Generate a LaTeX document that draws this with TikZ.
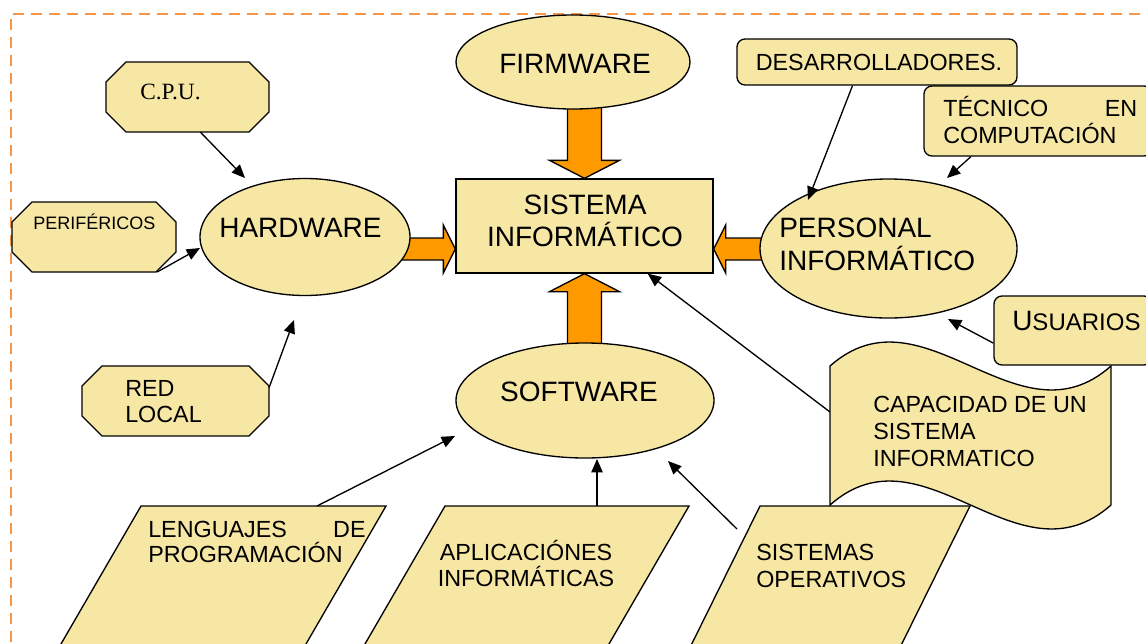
\documentclass[tikz,border=0pt]{standalone}
\usepackage{fontspec}
\setmainfont{Liberation Sans}
\newfontfamily\cpufont{Liberation Serif}
\usetikzlibrary{shapes.geometric,arrows.meta,backgrounds}
\definecolor{boxfill}{RGB}{247,231,165}
\definecolor{fatorange}{RGB}{255,153,0}
\definecolor{frameorange}{RGB}{247,150,70}
\tikzset{
  shp/.style={draw=black, line width=1pt, fill=boxfill},
  ell/.style={shp, ellipse, inner sep=0pt},
  octnode/.style={rectangle, inner sep=0pt, outer sep=0pt},
  rbox/.style={shp, rectangle, rounded corners=6pt, inner sep=0pt},
  bigtxt/.style={font=\fontsize{21}{24.5}\selectfont, inner sep=0pt},
  smalltxt/.style={font=\fontsize{17.5}{20.25}\selectfont, inner sep=0pt},
  arr/.style={line width=1pt, -{Triangle[length=10pt,width=8.5pt]}},
  fat/.style={draw=black, line width=1pt, fill=fatorange, line join=miter},
  frame/.style={draw=frameorange, line width=2.2pt, dash pattern=on 8pt off 5.5pt}
}
\newcommand\octoutline[1]{%
  \draw[shp] ([xshift=15pt]#1.north west) -- ([xshift=-15pt]#1.north east)
    -- ([yshift=-15pt]#1.north east) -- ([yshift=15pt]#1.south east)
    -- ([xshift=-15pt]#1.south east) -- ([xshift=15pt]#1.south west)
    -- ([yshift=15pt]#1.south west) -- ([yshift=-15pt]#1.north west) -- cycle;}
\begin{document}
\begin{tikzpicture}[x=0.75pt,y=-0.75pt]
\useasboundingbox (0,0) rectangle (1146,643);
\clip (0,0) rectangle (1146,643);
% frame
\draw[frame] (11,660) -- (11,14) -- (1160,14);

% parallelograms
\draw[shp] (141,506) coordinate (lenTL) -- (386,506) coordinate (lenTR) -- ++(-112.5,194) -- ++(-245,0) -- cycle;
\draw[shp] (445,506) coordinate (aplTL) -- (689,506) coordinate (aplTR) -- ++(-112.5,194) -- ++(-244,0) -- cycle;
\draw[shp] (760,506) coordinate (sopTL) -- (970,506) coordinate (sopTR) -- ++(-96,194) -- ++(-210,0) -- cycle;
% wave shape
\draw[shp] (830,366) .. controls (923.7,283) and (1017.3,449) .. (1111,366) -- (1111,505) .. controls (1017.3,588) and (923.7,422) .. (830,505) -- cycle;
\coordinate (capA) at (830,412);
\coordinate (lenA) at (317,506);
\coordinate (aplA) at (597,506);
\coordinate (sopA) at (737,529);

% main nodes
\node[ell, minimum width=175.5pt, minimum height=70.5pt] (fw) at (573,62) {};
\node[shp, rectangle, inner sep=0pt, minimum width=192.75pt, minimum height=70.5pt] (sis) at (584.5,226) {};
\node[ell, minimum width=157.5pt, minimum height=87.75pt] (hw) at (305,237) {};
\node[ell, minimum width=193.5pt, minimum height=86.25pt] (sw) at (585,400.5) {};
\node[ell, minimum width=192.75pt, minimum height=104.25pt] (pers) at (888.5,248.5) {};
\node[octnode, minimum width=122.25pt, minimum height=52.5pt] (cpu) at (187.5,97) {};
\node[octnode, minimum width=123pt, minimum height=52.5pt] (peri) at (94,237) {};
\node[octnode, minimum width=140.25pt, minimum height=52.5pt] (red) at (175.5,401) {};
\octoutline{cpu}
\octoutline{peri}
\octoutline{red}
\node[rbox, minimum width=210pt, minimum height=34.5pt] (des) at (877,62) {};
\node[rbox, minimum width=171pt, minimum height=52.5pt] (tec) at (1038,121) {};
\node[rbox, minimum width=118.5pt, minimum height=51.75pt] (usu) at (1073,330.5) {};

% fat arrows
\begin{scope}[on background layer]
\draw[fat] (sis.north) -- ++(35,-18) -- ++(-18,0) -- ++(0,-70) -- ++(-34,0) -- ++(0,70) -- ++(-18,0) -- cycle;
\draw[fat] (sis.south) -- ++(35,18) -- ++(-18,0) -- ++(0,70) -- ++(-34,0) -- ++(0,-70) -- ++(-18,0) -- cycle;
\draw[fat] (sis.west) ++(0,23) -- ++(-12,-24) -- ++(0,13) -- ++(-50,0) -- ++(0,22) -- ++(50,0) -- ++(0,13) -- cycle;
\draw[fat] (sis.east) ++(0,23) -- ++(12,-24) -- ++(0,13) -- ++(50,0) -- ++(0,22) -- ++(-50,0) -- ++(0,13) -- cycle;
\end{scope}

% texts
\node[bigtxt] (fwT) at (575,64) {FIRMWARE};
\node[bigtxt, font=\fontsize{21}{24}\selectfont, align=center] (sisT) at (585,221) {SISTEMA\\INFORMÁTICO};
\node[bigtxt] (hwT) at (300.5,228) {HARDWARE};
\node[bigtxt, font=\fontsize{21}{24.75}\selectfont, align=left, anchor=west] (persT) at (779,244.5) {PERSONAL\\INFORMÁTICO};
\node[bigtxt] (swT) at (579,392) {SOFTWARE};
\node[smalltxt] (desT) at (879,62) {DESARROLLADORES.};
\node[smalltxt, anchor=west, text width=145.5pt, align=left] (tecT) at (943,120) {TÉCNICO\hfill EN\\COMPUTACIÓN};
\node[smalltxt, anchor=base west] (usuT) at (1012,330) {{\fontsize{21}{21}\selectfont U}{\fontsize{18}{20}\selectfont SUARIOS}};
\node[smalltxt, anchor=west, align=left] (capT) at (873,431.5) {CAPACIDAD DE UN\\SISTEMA\\INFORMATICO};
\node[smalltxt, font=\fontsize{17.5}{19}\selectfont, anchor=west, text width=163pt, align=left] (lenT) at (148,542) {LENGUAJES\hfill DE\\PROGRAMACIÓN};
\node[smalltxt, font=\fontsize{17.5}{19.5}\selectfont, align=center] (aplT) at (526,563.5) {APLICACIÓNES\\INFORMÁTICAS};
\node[smalltxt, anchor=west, align=left] (sopT) at (756,566) {SISTEMAS\\OPERATIVOS};
\node[smalltxt, font=\fontsize{17.5}{19.5}\selectfont, anchor=west, align=left] (redT) at (125,402) {RED\\LOCAL};
\node[inner sep=0pt, font=\fontsize{13.5}{15}\selectfont, anchor=base west] (periT) at (33,229) {PERIFÉRICOS};
\node[inner sep=0pt, font=\cpufont\fontsize{17.5}{20}\selectfont, anchor=base west] (cpuT) at (140,99) {C.P.U.};

% connectors
\coordinate (t1) at (245,178);
\coordinate (t2) at (200,248);
\coordinate (t3) at (294,320);
\coordinate (t4) at (455,436);
\coordinate (t5) at (597,459);
\coordinate (t6) at (668,461);
\coordinate (t8) at (808,200);
\coordinate (t9) at (947,178);
\coordinate (t10) at (948,319);
\draw[arr] (cpu.-70.35) -- (t1);
\draw[arr] (peri.-29.85) -- (t2);
\draw[arr] (red.8.5) -- (t3);
\draw[arr] (lenA) -- (t4);
\draw[arr] (aplA) -- (t5);
\draw[arr] (sopA) -- (t6);
\draw[arr] (capA) -- (sis.-37.84);
\draw[arr] (des.-136.2) -- (t8);
\draw[arr] (tec.-152.8) -- (t9);
\draw[arr] (usu.-171.7) -- (t10);
\end{tikzpicture}
\end{document}
